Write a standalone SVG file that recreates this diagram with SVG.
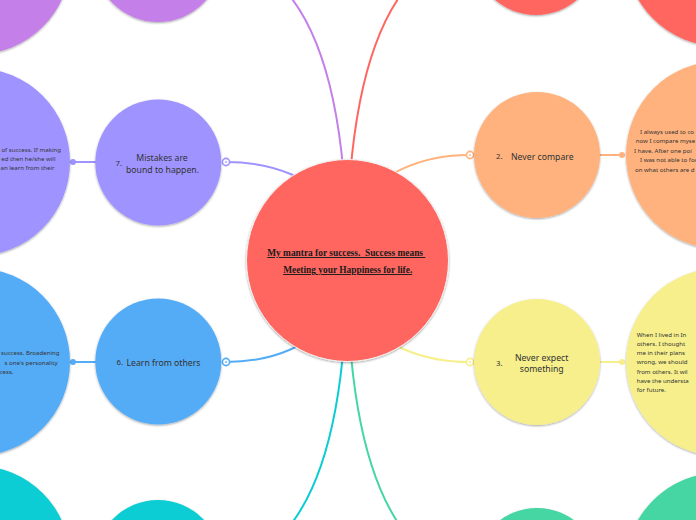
<svg xmlns="http://www.w3.org/2000/svg" width="696" height="520" viewBox="0 0 696 520">
<style>
.lbl{font-family:"Noto Sans","Open Sans",sans-serif;font-size:8.7px;fill:#333}
.num{font-family:"Noto Sans","Open Sans",sans-serif;font-size:7.8px;fill:#333}
.sm{font-family:"Noto Sans","Open Sans",sans-serif;font-size:6.1px;fill:#333}
.root{font-family:"Liberation Serif","Times New Roman",serif;font-size:9.4px;font-weight:bold;fill:#1a1a1a;text-decoration:underline}
.c{fill:none;stroke-width:2}
.ring{fill:#fff;stroke-width:1.6}
</style>
<defs>
<filter id="sh" x="-10%" y="-10%" width="120%" height="125%">
<feDropShadow dx="0" dy="1" stdDeviation="0.8" flood-color="#000" flood-opacity="0.35"/>
</filter>
</defs>
<g id="connectors">
<path class="c" stroke="#C47FE8" d="M347,260 C347,-40 238,-40 226,-40"/>
<path class="c" stroke="#9E93FF" d="M347,260 C347,162 238,162 226,162"/>
<path class="c" stroke="#55ACF6" d="M347,260 C347,362 238,362 226,362"/>
<path class="c" stroke="#0ACDD4" d="M347,260 C347,562 238,562 226,562"/>
<path class="c" stroke="#FF6660" d="M347,260 C347,-48 458,-48 470,-48"/>
<path class="c" stroke="#FFB27D" d="M347,260 C347,155 458,155 470,155"/>
<path class="c" stroke="#F6EF8C" d="M347,260 C347,362 458,362 470,362"/>
<path class="c" stroke="#45D6A4" d="M347,260 C347,570 458,570 470,570"/>
<line x1="73" y1="162" x2="96" y2="162" stroke="#9E93FF" stroke-width="2"/>
<circle cx="73" cy="162" r="3" fill="#9E93FF"/>
<line x1="73" y1="362" x2="96" y2="362" stroke="#55ACF6" stroke-width="2"/>
<circle cx="73" cy="362" r="3" fill="#55ACF6"/>
<line x1="599" y1="155" x2="622" y2="155" stroke="#FFB27D" stroke-width="2"/>
<circle cx="622" cy="155" r="3" fill="#FFB27D"/>
<line x1="599" y1="362" x2="622" y2="362" stroke="#F6EF8C" stroke-width="2"/>
<circle cx="622" cy="362" r="3" fill="#F6EF8C"/>
<circle class="ring" cx="226" cy="162" r="3.6" stroke="#9E93FF"/>
<circle cx="226" cy="162" r="1.3" fill="#9E93FF" opacity="0.6"/>
<circle class="ring" cx="226" cy="362" r="3.6" stroke="#55ACF6"/>
<circle cx="226" cy="362" r="1.3" fill="#55ACF6" opacity="0.6"/>
<circle class="ring" cx="470" cy="155" r="3.6" stroke="#FFB27D"/>
<circle cx="470" cy="155" r="1.3" fill="#FFB27D" opacity="0.6"/>
<circle class="ring" cx="470" cy="362" r="3.6" stroke="#F6EF8C"/>
<circle cx="470" cy="362" r="1.3" fill="#F6EF8C" opacity="0.8"/>
</g>
<g id="node8"><circle cx="158" cy="-42" r="64" fill="#C47FE8" filter="url(#sh)"/></g>
<g id="node8-detail"><circle cx="-24" cy="-40" r="94.5" fill="#C47FE8" filter="url(#sh)"/></g>
<g id="node1"><circle cx="536" cy="-48" r="63" fill="#FF6660" filter="url(#sh)"/></g>
<g id="node1-detail"><circle cx="720" cy="-48" r="94.5" fill="#FF6660" filter="url(#sh)"/></g>
<g id="node5"><circle cx="158" cy="563" r="63" fill="#0ACDD4" filter="url(#sh)"/></g>
<g id="node5-detail"><circle cx="-24" cy="560" r="94.5" fill="#0ACDD4" filter="url(#sh)"/></g>
<g id="node4"><circle cx="537" cy="571" r="63" fill="#45D6A4" filter="url(#sh)"/></g>
<g id="node4-detail"><circle cx="720" cy="567" r="94.5" fill="#45D6A4" filter="url(#sh)"/></g>
<g id="node7">
<circle cx="158.3" cy="162.5" r="63" fill="#9E93FF" filter="url(#sh)"/>
<text class="num" x="115.5" y="166">7.</text>
<text class="lbl" x="162" y="161.3" text-anchor="middle">Mistakes are</text>
<text class="lbl" x="162.5" y="172.5" text-anchor="middle">bound to happen.</text>
</g>
<g id="node7-detail">
<circle cx="-24" cy="162" r="94" fill="#9E93FF" filter="url(#sh)"/>
<text class="sm" x="61" y="151.5" text-anchor="end">of success. If making</text>
<text class="sm" x="55.5" y="161" text-anchor="end">ed then he/she will</text>
<text class="sm" x="54.5" y="170.3" text-anchor="end">an learn from their</text>
</g>
<g id="node6">
<circle cx="158.3" cy="361.5" r="63" fill="#55ACF6" filter="url(#sh)"/>
<text class="num" x="116.5" y="364.5">6.</text>
<text class="lbl" x="126.5" y="366">Learn from others</text>
</g>
<g id="node6-detail">
<circle cx="-24" cy="362" r="94" fill="#55ACF6" filter="url(#sh)"/>
<text class="sm" x="59.5" y="355" text-anchor="end">success. Broadening</text>
<text class="sm" x="57.5" y="365" text-anchor="end">s one's personality</text>
<text class="sm" x="13.5" y="374.3" text-anchor="end">cess.</text>
</g>
<g id="node2">
<circle cx="537" cy="155" r="63" fill="#FFB27D" filter="url(#sh)"/>
<text class="num" x="496" y="158.5">2.</text>
<text class="lbl" x="511" y="159.5">Never compare</text>
</g>
<g id="node2-detail">
<circle cx="720" cy="155" r="94" fill="#FFB27D" filter="url(#sh)"/>
<text class="sm" x="640" y="134">I always used to co</text>
<text class="sm" x="635.7" y="143.4">now I compare myse</text>
<text class="sm" x="634" y="152.8">I have. After one poi</text>
<text class="sm" x="640" y="162.2">I was not able to foc</text>
<text class="sm" x="635" y="171.6">on what others are d</text>
</g>
<g id="node3">
<circle cx="537" cy="362" r="63" fill="#F6EF8C" filter="url(#sh)"/>
<text class="num" x="496" y="366">3.</text>
<text class="lbl" x="541.7" y="360.5" text-anchor="middle">Never expect</text>
<text class="lbl" x="541.7" y="372.3" text-anchor="middle">something</text>
</g>
<g id="node3-detail">
<circle cx="720" cy="362" r="94" fill="#F6EF8C" filter="url(#sh)"/>
<text class="sm" x="636.7" y="336.5">When I lived in In</text>
<text class="sm" x="636.7" y="345.8">others. I thought</text>
<text class="sm" x="636.7" y="355.1">me in their plans</text>
<text class="sm" x="636.7" y="364.4">wrong, we should</text>
<text class="sm" x="636.7" y="373.7">from others. It wil</text>
<text class="sm" x="636.7" y="383">have the understa</text>
<text class="sm" x="636.7" y="392.3">for future.</text>
</g>
<g id="root">
<circle cx="347.5" cy="260.5" r="101" fill="#FF6660" stroke="#f3f3f3" stroke-width="1" filter="url(#sh)"/>
<text class="root" x="346.3" y="256" text-anchor="middle" xml:space="preserve">My mantra for success.  Success means </text>
<text class="root" x="347.7" y="273" text-anchor="middle">Meeting your Happiness for life.</text>
</g>
</svg>
